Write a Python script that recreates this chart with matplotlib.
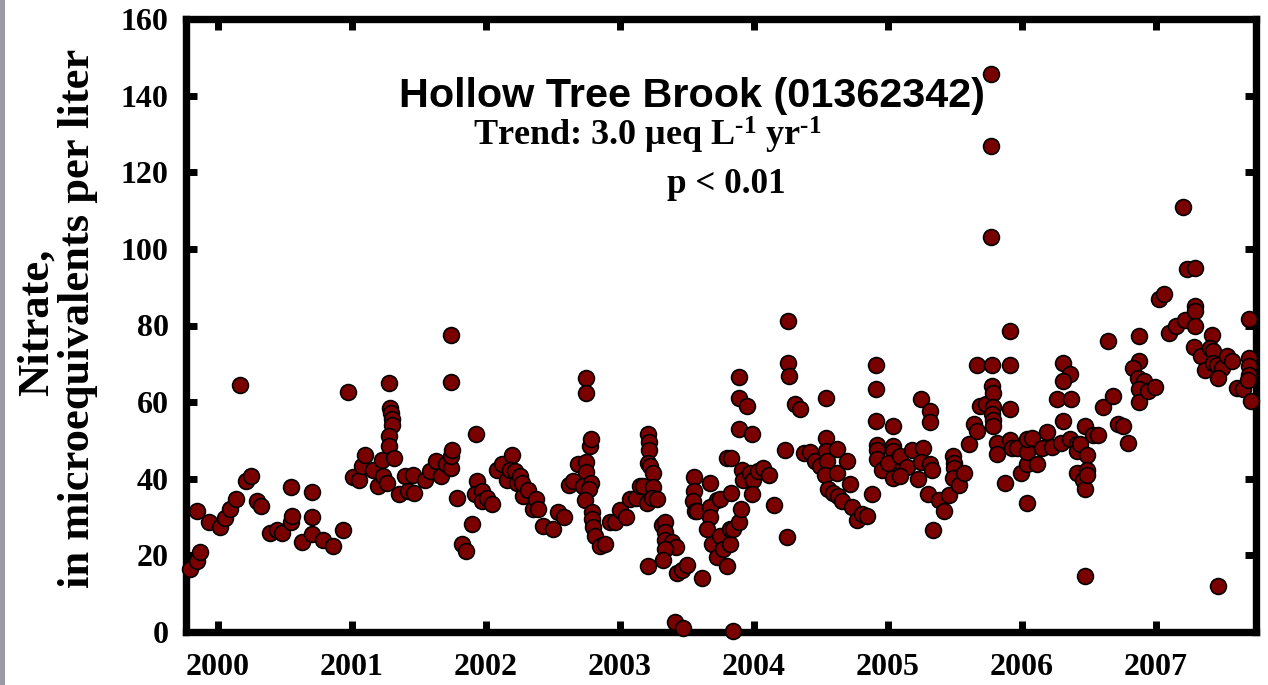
import numpy as np
import matplotlib
matplotlib.use("Agg")
import matplotlib.pyplot as plt
from matplotlib.patches import Rectangle

plt.rcParams['font.family'] = ['Liberation Serif', 'DejaVu Serif']
plt.rcParams['font.weight'] = 'bold'
plt.rcParams['mathtext.fontset'] = 'custom'
plt.rcParams['mathtext.rm'] = 'Liberation Serif:bold'
plt.rcParams['mathtext.it'] = 'Liberation Serif:bold'
plt.rcParams['mathtext.bf'] = 'Liberation Serif:bold'

# sample dates (decimal year) and nitrate, ueq/L
year_2000 = [1999.791, 1999.841, 1999.866, 1999.841, 1999.933, 2000.015, 2000.052, 2000.090,
             2000.134, 2000.164, 2000.207, 2000.244, 2000.289, 2000.321, 2000.388, 2000.438,
             2000.478, 2000.543, 2000.543, 2000.550, 2000.629, 2000.704, 2000.704, 2000.704,
             2000.781, 2000.856, 2000.935, 2000.968]
no3_2000 = [16.4, 18.6, 20.8, 31.5, 28.6, 27.3, 29.7, 32.0,
            34.6, 64.6, 39.4, 40.7, 34.1, 32.9, 25.8, 26.6,
            25.8, 37.9, 28.7, 30.3, 23.4, 36.6, 29.9, 25.5,
            24.0, 22.5, 26.6, 62.6]

year_2001 = [2001.010, 2001.052, 2001.077, 2001.097, 2001.159, 2001.196, 2001.222, 2001.234,
             2001.259, 2001.278, 2001.284, 2001.289, 2001.296, 2001.296, 2001.278, 2001.278,
             2001.313, 2001.353, 2001.396, 2001.420, 2001.457, 2001.465, 2001.545, 2001.582,
             2001.627, 2001.664, 2001.701, 2001.737, 2001.737, 2001.744, 2001.737, 2001.737,
             2001.781, 2001.819, 2001.851, 2001.893, 2001.925, 2001.931, 2001.918, 2001.968,
             2001.968]
no3_2001 = [40.4, 39.8, 43.3, 46.2, 42.3, 38.1, 45.0, 40.7,
            38.8, 65.0, 58.5, 57.2, 55.6, 53.9, 51.1, 48.5,
            45.3, 35.9, 40.7, 36.8, 41.0, 36.4, 39.7, 42.0,
            44.6, 40.7, 43.8, 42.9, 45.9, 47.5, 65.2, 77.6,
            35.1, 22.9, 21.2, 28.1, 51.6, 39.4, 35.9, 36.8,
            34.2]

year_2002 = [2002.005, 2002.043, 2002.080, 2002.117, 2002.154, 2002.192, 2002.179, 2002.216,
             2002.229, 2002.254, 2002.278, 2002.266, 2002.316, 2002.353, 2002.371, 2002.390,
             2002.423, 2002.502, 2002.540, 2002.582, 2002.622, 2002.651, 2002.689, 2002.744,
             2002.744, 2002.744, 2002.744, 2002.726, 2002.776, 2002.781, 2002.781, 2002.771,
             2002.739, 2002.793, 2002.793, 2002.801, 2002.813, 2002.851, 2002.888, 2002.925,
             2002.963]
no3_2002 = [35.1, 33.3, 42.4, 43.8, 39.8, 46.1, 42.4, 42.0,
            39.0, 40.7, 35.5, 39.0, 37.0, 32.0, 34.6, 32.0,
            27.7, 27.0, 31.2, 30.1, 38.3, 39.4, 43.9, 66.3,
            62.4, 44.4, 41.7, 38.1, 48.5, 50.5, 39.0, 37.2,
            34.5, 31.2, 29.6, 27.5, 25.1, 22.5, 22.9, 28.8,
            28.8]

year_2003 = [2003.000, 2003.045, 2003.075, 2003.117, 2003.149, 2003.174, 2003.211, 2003.216,
             2003.219, 2003.211, 2003.224, 2003.244, 2003.249, 2003.199, 2003.237, 2003.274,
             2003.311, 2003.336, 2003.336, 2003.336, 2003.386, 2003.418, 2003.336, 2003.323,
             2003.211, 2003.423, 2003.460, 2003.498, 2003.614, 2003.410, 2003.472, 2003.554,
             2003.554, 2003.547, 2003.560, 2003.577, 2003.672, 2003.722, 2003.672, 2003.672,
             2003.647, 2003.684, 2003.722, 2003.746, 2003.796, 2003.746, 2003.771, 2003.801,
             2003.821, 2003.821, 2003.846, 2003.888, 2003.901, 2003.826, 2003.826, 2003.888,
             2003.888, 2003.945, 2003.888, 2003.983, 2003.908, 2003.920, 2003.970, 2003.995,
             2003.988, 2003.841]
no3_2003 = [31.8, 30.1, 34.6, 34.9, 38.1, 38.1, 51.7, 49.6,
            47.5, 44.2, 43.3, 41.4, 37.9, 33.6, 35.1, 34.6,
            27.9, 28.6, 26.0, 24.0, 23.4, 22.3, 21.6, 18.8,
            17.1, 15.5, 16.2, 17.5, 14.2, 2.5, 1.0, 40.5,
            36.8, 34.2, 31.6, 31.6, 39.0, 34.5, 32.5, 29.9,
            27.0, 22.9, 19.5, 25.1, 45.5, 34.6, 21.6, 17.3,
            22.9, 27.0, 26.8, 28.6, 32.2, 36.4, 45.3, 66.6,
            61.1, 58.9, 52.9, 51.8, 42.4, 39.8, 41.6, 39.8,
            35.9, 0.3]

year_2004 = [2004.032, 2004.069, 2004.114, 2004.151, 2004.231, 2004.251, 2004.251, 2004.263,
             2004.306, 2004.343, 2004.244, 2004.373, 2004.418, 2004.455, 2004.493, 2004.537,
             2004.537, 2004.537, 2004.542, 2004.530, 2004.617, 2004.617, 2004.692, 2004.555,
             2004.592, 2004.629, 2004.654, 2004.716, 2004.729, 2004.766, 2004.804, 2004.841,
             2004.878, 2004.910, 2004.910, 2004.910, 2004.916, 2004.916, 2004.916, 2004.957]
no3_2004 = [42.0, 42.9, 41.1, 33.2, 47.4, 81.3, 70.2, 66.8,
            59.4, 58.3, 24.7, 46.6, 47.1, 44.6, 43.3, 61.1,
            50.7, 47.2, 44.6, 41.1, 47.7, 41.6, 44.6, 37.2,
            36.4, 35.5, 34.2, 38.5, 32.5, 29.2, 30.7, 30.3,
            36.1, 69.8, 63.3, 55.2, 48.7, 47.5, 45.1, 42.4]

year_2005 = [2005.040, 2005.040, 2005.040, 2005.077, 2005.002, 2005.040, 2005.110, 2005.090,
             2005.139, 2005.090, 2005.181, 2005.263, 2005.244, 2005.313, 2005.331, 2005.244,
             2005.313, 2005.313, 2005.226, 2005.301, 2005.381, 2005.420, 2005.457, 2005.338,
             2005.487, 2005.493, 2005.493, 2005.487, 2005.532, 2005.569, 2005.607, 2005.642,
             2005.666, 2005.666, 2005.687, 2005.731, 2005.774, 2005.774, 2005.781, 2005.786,
             2005.774, 2005.786, 2005.786, 2005.811, 2005.811, 2005.873, 2005.910, 2005.910,
             2005.910, 2005.910, 2005.923, 2005.960, 2005.990, 2005.769, 2005.769, 2005.769]
no3_2005 = [53.7, 48.5, 47.2, 45.5, 44.2, 40.3, 43.3, 45.9,
            43.1, 40.7, 47.5, 48.1, 44.4, 43.8, 42.3, 60.7,
            57.6, 54.8, 40.0, 35.9, 34.4, 31.6, 35.8, 26.6,
            45.9, 44.2, 42.9, 40.3, 38.3, 41.4, 49.0, 54.4,
            52.4, 69.8, 59.1, 59.4, 69.8, 64.3, 62.4, 58.7,
            56.8, 55.3, 53.7, 49.4, 46.4, 39.0, 78.5, 69.6,
            58.3, 50.0, 48.1, 47.9, 41.4, 145.6, 126.8, 103.1]

year_2006 = [2006.035, 2006.035, 2006.035, 2006.072, 2006.110, 2006.035, 2006.147, 2006.184,
             2006.222, 2006.291, 2006.358, 2006.308, 2006.358, 2006.308, 2006.259, 2006.363,
             2006.308, 2006.408, 2006.408, 2006.470, 2006.408, 2006.457, 2006.470, 2006.470,
             2006.530, 2006.567, 2006.433, 2006.483, 2006.483, 2006.483, 2006.602, 2006.677,
             2006.644, 2006.719, 2006.756, 2006.793, 2006.875, 2006.875, 2006.831, 2006.868,
             2006.910, 2006.875, 2006.875, 2006.943, 2006.993]
no3_2006 = [43.8, 47.0, 50.3, 50.7, 43.8, 33.8, 48.1, 52.2,
            48.4, 49.4, 50.3, 70.2, 67.4, 65.4, 60.9, 60.9,
            55.2, 49.2, 47.2, 53.7, 41.4, 39.8, 37.2, 14.7,
            51.3, 51.3, 49.0, 46.1, 42.4, 41.0, 58.8, 61.7,
            75.9, 54.2, 53.7, 49.4, 77.3, 70.8, 68.9, 66.3,
            65.4, 63.3, 60.1, 62.8, 64.0]

year_2007 = [2007.022, 2007.062, 2007.099, 2007.149, 2007.199, 2007.229, 2007.291, 2007.216,
             2007.291, 2007.291, 2007.291, 2007.286, 2007.334, 2007.420, 2007.403, 2007.428,
             2007.366, 2007.428, 2007.453, 2007.490, 2007.465, 2007.528, 2007.565, 2007.465,
             2007.604, 2007.651, 2007.696, 2007.696, 2007.696, 2007.696, 2007.684, 2007.709]
no3_2007 = [87.0, 88.2, 78.0, 79.8, 110.9, 94.7, 95.0, 81.5,
            85.0, 83.7, 80.0, 74.3, 72.0, 77.6, 74.1, 73.3,
            68.3, 70.2, 69.8, 68.9, 66.3, 72.0, 70.8, 11.9,
            63.7, 63.3, 81.7, 71.4, 69.4, 67.2, 65.9, 60.4]

x_ticks = [2000, 2001, 2002, 2003, 2004, 2005, 2006, 2007]
y_ticks = [0, 20, 40, 60, 80, 100, 120, 140, 160]

years = np.array(year_2000 + year_2001 + year_2002 + year_2003 +
                 year_2004 + year_2005 + year_2006 + year_2007)
nitrate = np.array(no3_2000 + no3_2001 + no3_2002 + no3_2003 +
                   no3_2004 + no3_2005 + no3_2006 + no3_2007)

fig = plt.figure(figsize=(12.68, 6.85), dpi=100)
ax = fig.add_axes([185.5/1268, 53/685, (1256-185.5)/1268, (666-53)/685])

# grey strip at the left border
fig.patches.append(Rectangle((0, 0), 5/1268, 1, transform=fig.transFigure,
                             facecolor='#9c9aa2', edgecolor='none'))

ax.scatter(years, nitrate, s=130, c='#7a0000', edgecolors='black',
           linewidths=1.2, zorder=3, clip_on=False)

ax.set_xlim(1999.7575, 2007.746)
ax.set_ylim(0, 160)
ax.set_xticks(x_ticks)
ax.set_xticklabels([str(t) for t in x_ticks])
ax.set_yticks(y_ticks)
for sp in ax.spines.values():
    sp.set_linewidth(5.3)
ax.tick_params(direction='in', length=8, width=5, top=True, right=True,
               labelsize=23)
ax.tick_params(axis='x', pad=15)
ax.tick_params(axis='y', pad=12)
for lab in ax.get_xticklabels() + ax.get_yticklabels():
    lab.set_fontweight('bold')

fig.text(37/1268, 0.53, 'Nitrate,', rotation=90, ha='center', va='center',
         fontsize=32, fontweight='bold')
fig.text(78/1268, 0.535, 'in microequivalents per liter', rotation=90,
         ha='center', va='center', fontsize=32, fontweight='bold')

fig.text(692/1268, (685-107)/685, 'Hollow Tree Brook (01362342)',
         family='Liberation Sans', fontsize=29.8, fontweight='bold',
         ha='center', va='baseline')
# hyphen in the exponents, as typed (not a math minus)
fig.text(647/1268, (685-146)/685, r'Trend: 3.0 μeq L$^{\text{-1}}$ yr$^{\text{-1}}$',
         fontsize=26, fontweight='bold', ha='center', va='baseline')
fig.text(726/1268, (685-193)/685, 'p < 0.01',
         fontsize=25.3, fontweight='bold', ha='center', va='baseline')

fig.savefig('out.png', dpi=100)
